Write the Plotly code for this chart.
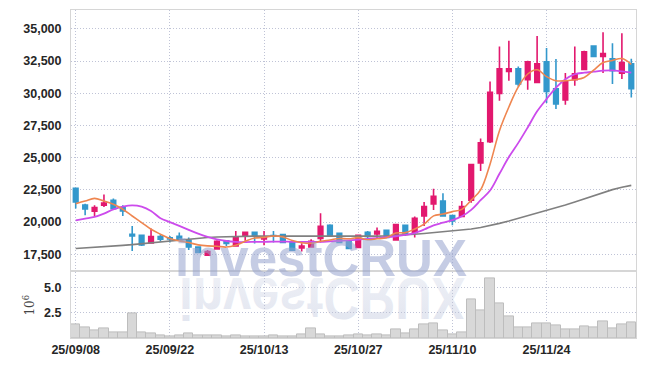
import base64
import plotly.graph_objects as go
from plotly.subplots import make_subplots

dates = [
    "25/09/08", "25/09/09", "25/09/10", "25/09/11", "25/09/12", "25/09/15", "25/09/16", "25/09/17",
    "25/09/18", "25/09/19", "25/09/22", "25/09/23", "25/09/24", "25/09/25", "25/09/26", "25/09/29",
    "25/09/30", "25/10/01", "25/10/02", "25/10/10", "25/10/13", "25/10/14", "25/10/15", "25/10/16",
    "25/10/17", "25/10/20", "25/10/21", "25/10/22", "25/10/23", "25/10/24", "25/10/27", "25/10/28",
    "25/10/29", "25/10/30", "25/10/31", "25/11/03", "25/11/04", "25/11/05", "25/11/06", "25/11/07",
    "25/11/10", "25/11/11", "25/11/12", "25/11/13", "25/11/14", "25/11/17", "25/11/18", "25/11/19",
    "25/11/20", "25/11/21", "25/11/24", "25/11/25", "25/11/26", "25/11/27", "25/11/28", "25/12/01",
    "25/12/02", "25/12/03", "25/12/04", "25/12/05",
]

open_ = [22620, 21320, 20840, 21320, 21690, 21120, 19060, 18980, 18380, 18880,
         18770, 18900, 18590, 18070, 17430, 17920, 18540, 18150, 18920, 19210,
         18690, 18960, 19030, 18460, 18000, 18070, 18720, 19750, 19130, 18540,
         18030, 19210, 19080, 19370, 18610, 19750, 19190, 20470, 21400, 21630,
         20500, 20430, 21700, 24600, 26250, 29990, 31700, 31900, 31050, 30840,
         32450, 30360, 29480, 31050, 31850, 33680, 32860, 32680, 31570, 32290]
high = [22650, 21430, 21300, 22150, 21840, 21300, 19700, 19000, 19500, 19060,
        18920, 19190, 18800, 18080, 17840, 18590, 18590, 19310, 19230, 19230,
        19310, 19310, 19050, 18540, 18360, 18670, 20680, 19830, 19140, 18590,
        18980, 19310, 19570, 19370, 19830, 19750, 20430, 21560, 22590, 22230,
        20500, 21630, 24480, 26490, 30920, 33630, 34090, 32080, 32520, 34460,
        33510, 32660, 31570, 33630, 33300, 33680, 34750, 33890, 34670, 32680]
low = [21050, 20530, 20470, 21170, 20990, 20470, 17760, 18150, 18340, 18490,
       18410, 18590, 17840, 17590, 17410, 17900, 18150, 18100, 18540, 18340,
       18200, 18410, 18410, 17760, 17720, 18070, 18410, 18920, 18400, 17950,
       18030, 18750, 18750, 18800, 18610, 18920, 18800, 19700, 20940, 20470,
       19750, 20430, 21510, 23960, 26150, 29430, 30980, 30530, 30280, 30800,
       29250, 28790, 29120, 30590, 31850, 32860, 31570, 30720, 31110, 29680]
close = [21560, 21010, 21120, 21480, 21040, 20860, 18920, 18230, 18880, 18670,
         18690, 18670, 18070, 17640, 17720, 18510, 18340, 18800, 19210, 18920,
         18770, 18900, 18410, 17820, 18130, 18510, 19680, 18920, 18410, 17950,
         18980, 18880, 19290, 18800, 19810, 19110, 20290, 21200, 22000, 20470,
         20090, 21200, 24470, 26150, 30070, 31900, 31900, 30720, 32450, 32290,
         30150, 29170, 30900, 31520, 33220, 32860, 33090, 31750, 32390, 30360]

ma5 = [21430, 21630, 21840, 21630, 21380, 21000, 20470, 19960, 19440, 19060,
       18720, 18540, 18410, 18230, 18150, 18120, 18060, 18200, 18510, 18760,
       18810, 18920, 18840, 18570, 18400, 18350, 18510, 18610, 18730, 18700,
       18790, 18630, 18700, 18780, 19150, 19180, 19460, 19840, 20480, 20620,
       20810, 20990, 21700, 22500, 24500, 27100, 28940, 30500, 31500, 31830,
       31300, 30980, 30980, 31050, 31230, 31800, 32390, 32550, 32700, 32250]
ma20 = [20140, 20270, 20400, 20660, 20990, 21200, 21300, 21200, 20860, 20300,
        20000, 19700, 19400, 19100, 18850, 18650, 18530, 18470, 18450, 18460,
        18470, 18480, 18480, 18470, 18460, 18460, 18470, 18500, 18530, 18580,
        18640, 18700, 18760, 18820, 18900, 19000, 19150, 19420, 19750, 19950,
        20150, 20450, 20950, 21700, 22450, 23750, 25050, 26150, 27350, 28600,
        29550, 30450, 31100, 31480, 31600, 31680, 31760, 31780, 31700, 31600]
ma60 = [17950, 17990, 18030, 18080, 18130, 18190, 18250, 18320, 18400, 18480,
        18550, 18620, 18690, 18750, 18800, 18840, 18870, 18890, 18900, 18910,
        18910, 18910, 18900, 18890, 18880, 18870, 18870, 18870, 18870, 18870,
        18880, 18890, 18910, 18930, 18960, 19000, 19050, 19110, 19170, 19230,
        19300, 19380, 19460, 19580, 19720, 19900, 20080, 20280, 20480, 20700,
        20900, 21100, 21320, 21560, 21800, 22050, 22300, 22520, 22700, 22850]

volume_m = [1.36, 1.03, 0.73, 0.93, 0.56, 0.56, 2.42, 0.56, 0.43, 0.30,
            0.20, 0.23, 0.43, 0.23, 0.23, 0.23, 0.13, 0.30, 0.20, 0.20,
            0.20, 0.23, 0.20, 0.13, 0.33, 0.93, 0.33, 0.13, 0.20, 0.23,
            0.33, 0.23, 0.33, 0.23, 0.83, 0.46, 0.83, 1.32, 1.46, 0.73,
            0.33, 0.56, 3.80, 2.75, 5.93, 3.41, 2.15, 1.03, 1.03, 1.42,
            1.42, 1.26, 0.83, 0.83, 1.13, 1.03, 1.62, 0.93, 1.36, 1.52]

x_tick_labels = ["25/09/08", "25/09/22", "25/10/13", "25/10/27", "25/11/10", "25/11/24"]
y_ticks = [17500, 20000, 22500, 25000, 27500, 30000, 32500, 35000]
vol_ticks = [2.5, 5.0]
vol_tick_text = ["2.5", "5.0"]

UP = "#e2186e"
DOWN = "#3398cc"
GRID = "#bfc3d6"
GRID_DASH = "1px,2px"
AXLINE = "#d6d6d6"
FONT_STACK = "Liberation Sans Narrow, Arial Narrow, Liberation Sans, Arial, sans-serif"
TICKFONT = dict(family=FONT_STACK, size=12.5, color="#262626", weight="bold")

fig = make_subplots(rows=2, cols=1, shared_xaxes=True, vertical_spacing=0.0,
                    row_heights=[0.8, 0.2])

fig.add_trace(go.Candlestick(
    x=dates, open=open_, high=high, low=low, close=close,
    increasing=dict(line=dict(color=UP, width=1.6), fillcolor=UP),
    decreasing=dict(line=dict(color=DOWN, width=1.6), fillcolor=DOWN),
    whiskerwidth=0, showlegend=False, hoverinfo="skip"), row=1, col=1)

fig.add_trace(go.Scatter(x=dates, y=ma60, mode="lines",
                         line=dict(color="#808080", width=1.6), showlegend=False,
                         hoverinfo="skip"), row=1, col=1)
fig.add_trace(go.Scatter(x=dates, y=ma20, mode="lines",
                         line=dict(color="#cc4bec", width=1.8, shape="spline"), showlegend=False,
                         hoverinfo="skip"), row=1, col=1)
fig.add_trace(go.Scatter(x=dates, y=ma5, mode="lines",
                         line=dict(color="#ef8650", width=1.6, shape="spline"), showlegend=False,
                         hoverinfo="skip"), row=1, col=1)

fig.add_trace(go.Bar(x=dates, y=volume_m,
                     marker=dict(color="#d8d8d8", line=dict(color="#bdbdbd", width=1)),
                     showlegend=False, hoverinfo="skip"), row=2, col=1)

# mirrored reflection of the watermark, drawn beneath the data
svg = ("<svg xmlns='http://www.w3.org/2000/svg' width='290' height='46'>"
       "<defs><linearGradient id='g' x1='0' y1='0' x2='0' y2='1'>"
       "<stop offset='0' stop-color='#ccd2e4' stop-opacity='0.6'/>"
       "<stop offset='1' stop-color='#ccd2e4' stop-opacity='0.3'/></linearGradient></defs>"
       "<g transform='scale(1,-1.2)'>"
       "<text x='145' y='0' text-anchor='middle' font-family='Liberation Sans, Arial, sans-serif' "
       "font-weight='bold' font-size='50' fill='url(#g)'>investCRUX</text>"
       "</g></svg>")
src = "data:image/svg+xml;base64," + base64.b64encode(svg.encode()).decode()
fig.add_layout_image(dict(source=src, xref="paper", yref="paper",
                          x=(177 - 71) / 565, y=(338 - 278) / 328,
                          sizex=290 / 565, sizey=46 / 328, xanchor="left", yanchor="top",
                          sizing="stretch", layer="below"))

fig.add_annotation(text="investCRUX", xref="paper", yref="paper",
                   x=(321 - 71) / 565, y=(338 - 289) / 328, xanchor="center", yanchor="bottom",
                   showarrow=False,
                   font=dict(family="Liberation Sans, Arial, sans-serif", size=51, weight="bold",
                             color="rgba(150,162,205,0.55)"))

fig.update_layout(
    width=645, height=366,
    margin=dict(l=71, r=9, t=10, b=28, autoexpand=False),
    paper_bgcolor="white", plot_bgcolor="white",
    boxgap=0.3, bargap=0.0,
    showlegend=False,
    hovermode=False,
)

common_x = dict(type="category", range=[-0.5, len(dates) - 0.5],
                tickvals=x_tick_labels, ticktext=x_tick_labels,
                showgrid=True, gridcolor=GRID, griddash=GRID_DASH, gridwidth=1,
                showline=True, linecolor=AXLINE, mirror=True, automargin=False,
                rangeslider=dict(visible=False), ticks="", tickfont=TICKFONT)
fig.update_xaxes(**common_x)
fig.update_xaxes(showticklabels=False, row=1, col=1)
fig.update_xaxes(showticklabels=True, row=2, col=1)

fig.update_yaxes(range=[16270, 36470], tickvals=y_ticks, tickformat=",",
                 showgrid=True, gridcolor=GRID, griddash=GRID_DASH, gridwidth=1,
                 showline=True, linecolor=AXLINE, mirror=True, zeroline=False,
                 ticks="", ticklabelstandoff=6, tickfont=TICKFONT, automargin=False,
                 domain=[0.207, 1.0], row=1, col=1)
fig.update_yaxes(range=[0, 6.5], tickvals=vol_ticks, ticktext=vol_tick_text,
                 showgrid=True, gridcolor=GRID, griddash=GRID_DASH, gridwidth=1,
                 showline=True, linecolor=AXLINE, mirror=True, zeroline=False,
                 ticks="", ticklabelstandoff=6, tickfont=TICKFONT, automargin=False,
                 title=dict(text="10<sup>6</sup>", standoff=6,
                            font=dict(family="DejaVu Serif", size=12, color="#444")),
                 domain=[0.0, 0.2], row=2, col=1)

fig.write_html("out.html", config={"displayModeBar": False},
               post_script="document.body.style.margin='0px';document.body.style.padding='0px';")
